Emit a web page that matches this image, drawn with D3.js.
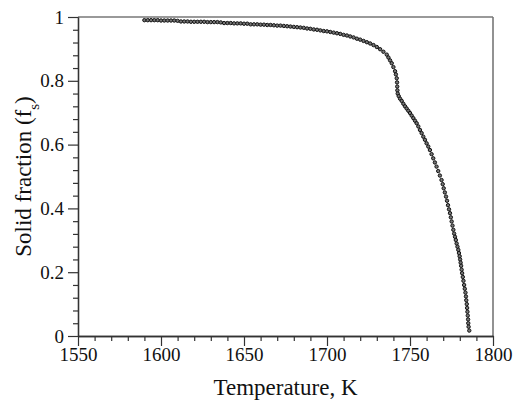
<!DOCTYPE html>
<html>
<head>
<meta charset="utf-8">
<script src="https://cdn.jsdelivr.net/npm/d3@7"></script>
<style>
body { margin: 0; background: #fff; }
svg text { font-family: "Liberation Serif", "Times New Roman", serif; fill: #111; }
</style>
</head>
<body>
<svg class="chart"></svg>
<script>
// temperature (K) and solid fraction
var temps = [
  1590,1592,1594,1596,1598,1600,1602,1604,1606,1608,1610,
  1612,1614,1616,1618,1620,1622,1624,1626,1628,1630,1632,1634,1636,
  1638,1640,1642,1644,1646,1648,1650,1652,
  1654,1656,1658,1660,1662,1664,1666,
  1668,1670,1672,1674,1676,1678,1680,1682,1684,1686,1688,1690,1692,1694,1696,1698,1700,
  1702,1704,1706,1708,1710,1712,1714,1716,1718,1720,1722,1724,1726,1728,1730,1732,1734,1736,
  1737,1738,1739,1740,1741,1741.5,1742,1742.2,1742.3,1742.4,1742.6,1743.2,1744,1745,1746,1747,1748,1749,1750,
  1751,1752,1753,1754,1755,1756,1757,1758,1759,1760,1761,1762,1763,1764,1765,1766,1767,1768,1769,
  1769.7,1770.3,1771,1771.7,1772.3,1772.9,1773.5,1774.1,1774.6,1775.1,1775.6,1776.1,1776.6,1777.1,1777.6,1778.1,
  1778.6,1779.1,1779.5,1779.9,1780.2,1780.5,1780.8,1781.1,1781.4,1781.8,1782.2,1782.6,1783,1783.4,1783.7,1783.9,
  1784.2,1784.4,1784.6,1784.8,1785,1785.1,1785.3,1785.7
];
var fracs = [
  0.990,0.990,0.990,0.990,0.990,0.989,0.989,0.989,0.989,0.989,0.988,
  0.986,0.986,0.986,0.985,0.985,0.985,0.985,0.985,0.984,0.984,0.984,0.984,0.983,
  0.981,0.981,0.981,0.980,0.980,0.980,0.979,0.979,
  0.977,0.977,0.977,0.976,0.976,0.975,0.975,
  0.974,0.973,0.973,0.972,0.971,0.970,0.969,0.968,0.967,0.966,0.964,0.963,0.961,0.960,0.958,0.956,0.955,
  0.953,0.951,0.949,0.947,0.944,0.942,0.939,0.936,0.932,0.929,0.925,0.921,0.917,0.912,0.906,0.899,0.891,0.882,
  0.873,0.864,0.855,0.843,0.830,0.820,0.808,0.795,0.782,0.770,0.760,0.752,0.744,0.737,0.728,0.720,0.713,0.706,0.699,
  0.691,0.683,0.675,0.667,0.657,0.646,0.636,0.625,0.615,0.604,0.594,0.583,0.570,0.557,0.544,0.531,0.517,0.503,0.489,
  0.476,0.463,0.450,0.437,0.424,0.410,0.397,0.385,0.372,0.359,0.346,0.333,0.321,0.311,0.301,0.290,
  0.280,0.270,0.260,0.250,0.240,0.230,0.220,0.208,0.197,0.185,0.173,0.160,0.148,0.136,0.124,0.112,
  0.100,0.088,0.076,0.064,0.052,0.040,0.029,0.017
];
var xTicks = [1550,1600,1650,1700,1750,1800];
var yTicks = [0,0.2,0.4,0.6,0.8,1];

var W = 513, H = 403;
var mLeft = 78, mRight = 493, mTop = 17, mBottom = 336;
var serif = "'Liberation Serif', 'Times New Roman', serif";

var x = d3.scaleLinear().domain([1550,1800]).range([mLeft,mRight]);
var y = d3.scaleLinear().domain([0,1]).range([mBottom,mTop]);

var chart = d3.select(".chart").attr("width",W).attr("height",H);

var minorX = d3.range(1550,1801,10).filter(function(d){ return xTicks.indexOf(d) < 0; });
var minorY = d3.range(0,26).map(function(i){ return +(i*0.04).toFixed(2); })
               .filter(function(d){ return yTicks.indexOf(d) < 0; });

// frame: top and right in grey
chart.append("line").attr("x1",mLeft).attr("x2",mRight).attr("y1",mTop).attr("y2",mTop)
     .attr("stroke","#777").attr("stroke-width",1.6);
chart.append("line").attr("x1",mRight).attr("x2",mRight).attr("y1",mTop).attr("y2",mBottom)
     .attr("stroke","#777").attr("stroke-width",1.6);

function styleAxis(g){
  g.attr("font-family", serif);
  g.select(".domain").attr("stroke","#333").attr("stroke-width",1.3);
  g.selectAll(".tick line").attr("stroke","#333").attr("stroke-width",1.2);
  g.selectAll("text").style("font-family", serif).style("font-size","19px").attr("fill","#111");
}

chart.append("g")
     .attr("transform","translate(0," + mBottom + ")")
     .call(d3.axisBottom(x).tickValues(minorX).tickSize(5).tickFormat("").tickSizeOuter(0))
     .call(styleAxis);
chart.append("g")
     .attr("transform","translate(0," + mBottom + ")")
     .call(d3.axisBottom(x).tickValues(xTicks).tickSize(10).tickPadding(2).tickSizeOuter(0).tickFormat(d3.format("d")))
     .call(styleAxis);

chart.append("g")
     .attr("transform","translate(" + mLeft + ",0)")
     .call(d3.axisLeft(y).tickValues(minorY).tickSize(5).tickFormat("").tickSizeOuter(0))
     .call(styleAxis);
chart.append("g")
     .attr("transform","translate(" + mLeft + ",0)")
     .call(d3.axisLeft(y).tickValues(yTicks).tickSize(10).tickPadding(4).tickSizeOuter(0).tickFormat(d3.format("~g")))
     .call(styleAxis);

// data points
chart.append("g")
     .selectAll("circle")
     .data(temps)
     .enter().append("circle")
     .attr("cx",function(d){ return x(d); })
     .attr("cy",function(d,i){ return y(fracs[i]); })
     .attr("r",1.7)
     .attr("fill","#777")
     .attr("stroke","#111")
     .attr("stroke-width",1);

chart.append("text")
     .attr("x",(mLeft+mRight)/2)
     .attr("y",395)
     .attr("text-anchor","middle")
     .style("font-family", serif)
     .style("font-size","23px")
     .text("Temperature, K");

var yt = chart.append("text")
     .attr("transform","translate(31," + ((mTop+mBottom)/2) + ") rotate(-90)")
     .attr("text-anchor","middle")
     .style("font-family", serif)
     .style("font-size","23px");
yt.append("tspan").text("Solid fraction (f");
yt.append("tspan").attr("baseline-shift","sub").style("font-size","15px").text("s");
yt.append("tspan").text(")");
</script>
</body>
</html>
